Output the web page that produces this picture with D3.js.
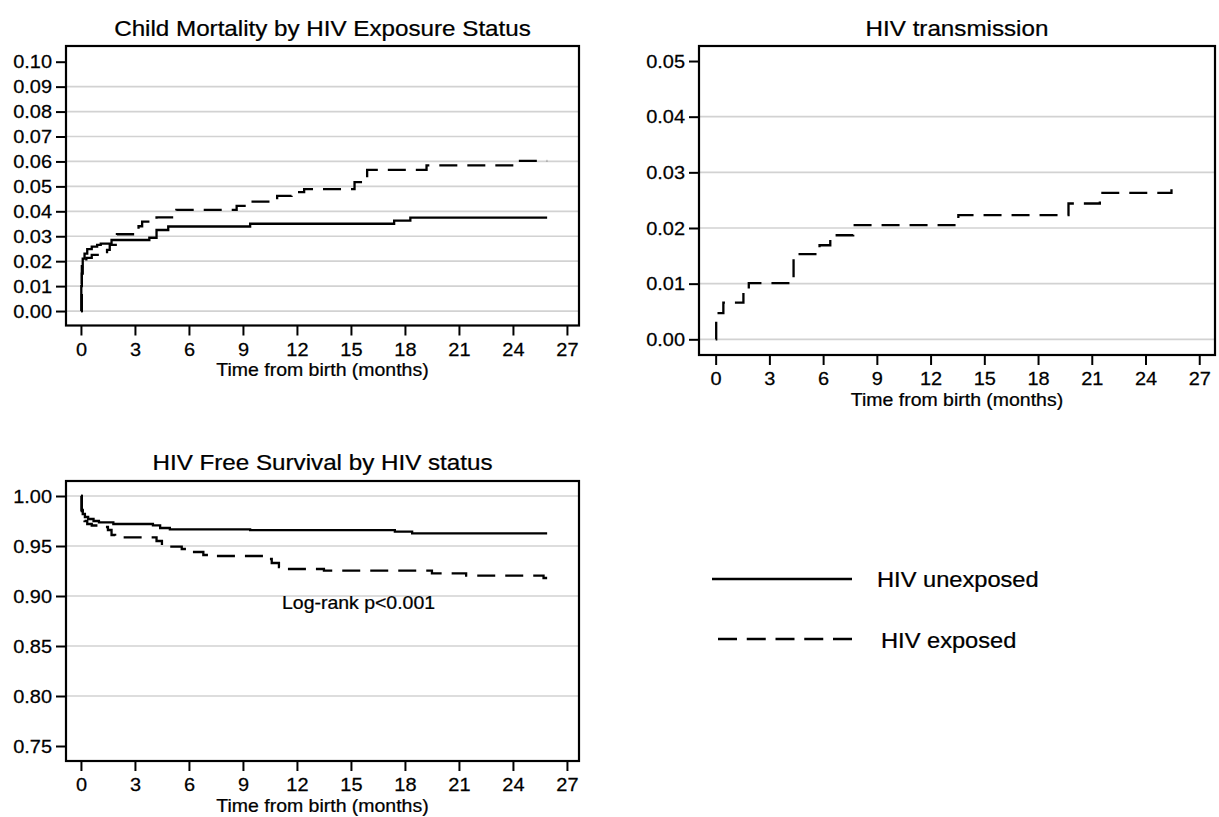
<!DOCTYPE html>
<html>
<head>
<meta charset="utf-8">
<script src="https://cdn.jsdelivr.net/npm/d3@7"></script>
<style>
  body { margin: 0; background: #fff; }
  svg text {
    font-family: "Liberation Sans", Arial, Helvetica, sans-serif;
    fill: #000;
    stroke: #000;
    stroke-width: 0.25px;
    transform-box: fill-box;
    transform: scaleX(1.1);
  }
  svg text.tick { transform: scaleX(1.05); }
  .tmid { transform-origin: 50% 50%; }
  .tend { transform-origin: 100% 50%; }
  .tstart { transform-origin: 0% 50%; }
</style>
</head>
<body>
<div id="chart"></div>
<script>
// Tick values
var xTicks = [0, 3, 6, 9, 12, 15, 18, 21, 24, 27];
var mortTicks = [0, 0.01, 0.02, 0.03, 0.04, 0.05, 0.06, 0.07, 0.08, 0.09, 0.10];
var mortGrid = [0, 0.01, 0.02, 0.03, 0.04, 0.05, 0.06, 0.07, 0.08, 0.09];
var transTicks = [0, 0.01, 0.02, 0.03, 0.04, 0.05];
var transGrid = [0, 0.01, 0.02, 0.03, 0.04];
var survTicks = [0.75, 0.80, 0.85, 0.90, 0.95, 1.00];
var survGrid = [0.80, 0.85, 0.90, 0.95, 1.00];

// Child mortality, HIV unexposed (months, cumulative mortality)
var mortUnexpT = [0, 0.02, 0.05, 0.1, 0.2, 0.35, 0.6, 0.9, 1.1, 1.7, 3.8, 4.2, 4.85, 9.4, 17.4, 18.3, 25.9];
var mortUnexpV = [0, 0.010, 0.018, 0.021, 0.023, 0.0248, 0.0258, 0.0265, 0.027, 0.0285, 0.0294, 0.0325, 0.0339, 0.0350, 0.0363, 0.0375, 0.0375];

// Child mortality, HIV exposed
var mortExpT = [0, 0.05, 0.1, 0.3, 0.6, 1.45, 1.6, 2.0, 3.2, 3.4, 4.2, 5.3, 8.65, 9.3, 10.9, 11.7, 12.4, 15.2, 15.9, 19.2, 24.2, 25.9];
var mortExpV = [0, 0.015, 0.020, 0.0213, 0.0225, 0.0245, 0.0265, 0.0308, 0.034, 0.0359, 0.0376, 0.0406, 0.0422, 0.0439, 0.0462, 0.0477, 0.0489, 0.0517, 0.0566, 0.0584, 0.0602, 0.0602];

// HIV transmission (exposed only)
var transT = [0, 0.03, 0.43, 1.55, 1.85, 4.35, 5.8, 6.4, 7.68, 13.55, 19.7, 21.45, 25.45];
var transV = [0, 0.0047, 0.0066, 0.0085, 0.0101, 0.0153, 0.0169, 0.0187, 0.0205, 0.0223, 0.0244, 0.0263, 0.0286];

// HIV free survival, unexposed
var survUnexpT = [0, 0.03, 0.1, 0.22, 0.4, 0.7, 1.0, 1.8, 4.0, 4.4, 4.94, 9.4, 17.44, 18.4, 25.9];
var survUnexpV = [1.0, 0.986, 0.982, 0.979, 0.977, 0.975, 0.9737, 0.972, 0.9707, 0.968, 0.9667, 0.9658, 0.9643, 0.9627, 0.9627];

// HIV free survival, exposed
var survExpT = [0, 0.05, 0.1, 0.2, 0.35, 0.6, 1.3, 1.5, 1.7, 1.9, 4.2, 4.5, 5.6, 6.2, 6.8, 7.2, 10.2, 10.6, 11.0, 11.4, 13.5, 19.5, 21.4, 25.7, 25.9];
var survExpV = [1.0, 0.985, 0.979, 0.975, 0.972, 0.9705, 0.969, 0.966, 0.961, 0.9587, 0.955, 0.9493, 0.947, 0.944, 0.941, 0.940, 0.937, 0.933, 0.929, 0.927, 0.9253, 0.9227, 0.9203, 0.918, 0.918];

var legendLabels = ["HIV unexposed", "HIV exposed"];

var svgWidth = 1219;
var svgHeight = 817;
var dash = "18,10";

var svg = d3.select("#chart")
  .append("svg")
  .attr("width", svgWidth)
  .attr("height", svgHeight);

function zip(t, v) {
  return t.map(function(d, i) { return [d, v[i]]; });
}

// one Stata-like panel
function drawPanel(p) {
  var x = d3.scaleLinear().domain(p.xDomain).range([p.left, p.right]);
  var y = d3.scaleLinear().domain(p.yDomain).range([p.bottom, p.top]);
  var g = svg.append("g");

  // gridlines
  g.selectAll(".grid")
    .data(p.grid)
    .enter()
    .append("line")
    .attr("x1", p.left).attr("x2", p.right)
    .attr("y1", d => y(d)).attr("y2", d => y(d))
    .attr("stroke", "#d2d2d2")
    .attr("stroke-width", 1.7);

  // curves
  var line = d3.line()
    .x(d => x(d[0]))
    .y(d => y(d[1]))
    .curve(d3.curveStepAfter);

  p.series.forEach(function(s) {
    g.append("path")
      .datum(zip(s.t, s.v))
      .attr("d", line)
      .attr("fill", "none")
      .attr("stroke", "#000")
      .attr("stroke-width", 2.3)
      .attr("stroke-dasharray", s.dashed ? dash : null);
  });

  // frame
  g.append("rect")
    .attr("x", p.left).attr("y", p.top)
    .attr("width", p.right - p.left)
    .attr("height", p.bottom - p.top)
    .attr("fill", "none")
    .attr("stroke", "#000")
    .attr("stroke-width", 2.2);

  // axes
  var yAxis = g.append("g")
    .attr("transform", `translate(${p.left},0)`)
    .call(d3.axisLeft(y).tickValues(p.yTicks).tickFormat(d3.format(".2f")).tickSize(10).tickPadding(4));
  yAxis.select(".domain").remove();
  yAxis.selectAll("line").attr("stroke", "#000").attr("stroke-width", 2);
  yAxis.selectAll("text").attr("class", "tick tend").style("font-size", "19px");

  var xAxis = g.append("g")
    .attr("transform", `translate(0,${p.bottom})`)
    .call(d3.axisBottom(x).tickValues(xTicks).tickSize(10).tickPadding(7));
  xAxis.select(".domain").remove();
  xAxis.selectAll("line").attr("stroke", "#000").attr("stroke-width", 2);
  xAxis.selectAll("text").attr("class", "tick tmid").style("font-size", "19px");

  // titles
  g.append("text")
    .attr("class", "tmid")
    .attr("x", (p.left + p.right) / 2)
    .attr("y", p.titleY)
    .attr("text-anchor", "middle")
    .style("font-size", "22px")
    .text(p.title);

  g.append("text")
    .attr("class", "tmid")
    .attr("x", (p.left + p.right) / 2)
    .attr("y", p.bottom + 51)
    .attr("text-anchor", "middle")
    .style("font-size", "17.7px")
    .text("Time from birth (months)");

  return {x: x, y: y, g: g};
}

drawPanel({
  left: 66, right: 579, top: 46, bottom: 325.5,
  xDomain: [-0.83, 27.67], yDomain: [-0.0058, 0.1063],
  yTicks: mortTicks, grid: mortGrid,
  title: "Child Mortality by HIV Exposure Status", titleY: 36,
  series: [
    {t: mortUnexpT, v: mortUnexpV, dashed: false},
    {t: mortExpT, v: mortExpV, dashed: true}
  ]
});

drawPanel({
  left: 699, right: 1215, top: 46, bottom: 355,
  xDomain: [-0.93, 27.88], yDomain: [-0.00282, 0.0527],
  yTicks: transTicks, grid: transGrid,
  title: "HIV transmission", titleY: 36,
  series: [
    {t: transT, v: transV, dashed: true}
  ]
});

var surv = drawPanel({
  left: 66, right: 579, top: 481, bottom: 761,
  xDomain: [-0.83, 27.67], yDomain: [0.735, 1.015],
  yTicks: survTicks, grid: survGrid,
  title: "HIV Free Survival by HIV status", titleY: 470,
  series: [
    {t: survUnexpT, v: survUnexpV, dashed: false},
    {t: survExpT, v: survExpV, dashed: true}
  ]
});

surv.g.append("text")
  .attr("class", "tstart")
  .attr("x", 282)
  .attr("y", 609)
  .style("font-size", "17.7px")
  .text("Log-rank p<0.001");

// legend
var legend = svg.append("g");
legend.append("line")
  .attr("x1", 712).attr("x2", 852)
  .attr("y1", 579).attr("y2", 579)
  .attr("stroke", "#000").attr("stroke-width", 2.3);
legend.append("line")
  .attr("x1", 718).attr("x2", 852)
  .attr("y1", 639).attr("y2", 639)
  .attr("stroke", "#000").attr("stroke-width", 2.3)
  .attr("stroke-dasharray", "19,9.75");
legend.append("text")
  .attr("class", "tstart")
  .attr("x", 877).attr("y", 587.5)
  .style("font-size", "21.5px")
  .text(legendLabels[0]);
legend.append("text")
  .attr("class", "tstart")
  .attr("x", 881).attr("y", 648)
  .style("font-size", "21.5px")
  .text(legendLabels[1]);
</script>
</body>
</html>
